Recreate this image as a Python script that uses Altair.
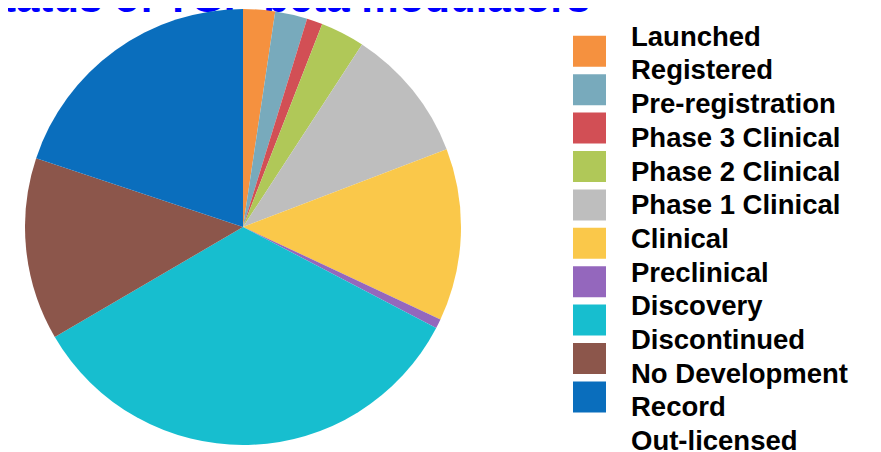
import altair as alt
import pandas as pd

# ---- data ----
title_text = "Status of TGF-beta modulators"

slice_names = ["Launched", "Registered", "Pre-registration", "Phase 3 Clinical",
               "Phase 2 Clinical", "Phase 1 Clinical", "Clinical", "Preclinical",
               "Discovery", "Discontinued"]
slice_values = [8.5, 8.6, 4.2, 11.8, 36.0, 46.0, 2.5, 122.1, 48.7, 71.6]
slice_colors = ["#F5913F", "#78AABC", "#D24F55", "#B0C858", "#BEBEBE",
                "#FAC84A", "#9467BD", "#17BECF", "#8C564B", "#0A6EBD"]

legend_labels = ["Launched", "Registered", "Pre-registration", "Phase 3 Clinical",
                 "Phase 2 Clinical", "Phase 1 Clinical", "Clinical", "Preclinical",
                 "Discovery", "Discontinued", "No Development", "Record", "Out-licensed"]

pie_df = pd.DataFrame({"name": slice_names, "value": slice_values,
                       "order": list(range(len(slice_names)))})
sw_df = pd.DataFrame({"name": slice_names, "i": list(range(len(slice_names)))})
lab_df = pd.DataFrame({"label": legend_labels, "i": list(range(len(legend_labels)))})
title_df = pd.DataFrame({"t": [title_text]})

color_scale = alt.Scale(domain=slice_names, range=slice_colors)

title = alt.Chart(title_df).mark_text(
    align="right", baseline="alphabetic", font="Liberation Sans",
    fontWeight="bold", fontSize=42, color="#0000FF"
).encode(x=alt.value(582), y=alt.value(4), text="t:N")

pie = alt.Chart(pie_df).mark_arc(radius=218).encode(
    theta=alt.Theta("value:Q", stack=True),
    order=alt.Order("order:Q"),
    color=alt.Color("name:N", scale=color_scale, legend=None),
    x=alt.value(235), y=alt.value(219),
)

swatches = alt.Chart(sw_df).mark_point(
    shape="M-1,-0.94H1V0.94H-1Z", filled=True, size=1089, opacity=1
).encode(
    x=alt.value(581.5),
    y=alt.Y("i:Q", scale=alt.Scale(domain=[0, 1], range=[43.3, 81.7]), axis=None),
    color=alt.Color("name:N", scale=color_scale, legend=None),
)

labels = alt.Chart(lab_df).mark_text(
    align="left", baseline="alphabetic", font="Liberation Sans",
    fontWeight="bold", fontSize=27.5, color="black"
).encode(
    x=alt.value(623),
    y=alt.Y("i:Q", scale=alt.Scale(domain=[0, 1], range=[37.7, 71.4]), axis=None),
    text="label:N",
)

chart = alt.layer(title, pie, swatches, labels).resolve_scale(
    y="independent"
).properties(
    width=865, height=444, autosize=alt.AutoSizeParams(type="none"), padding=0
).configure_view(stroke=None)

chart.save("out.html", embed_options={"renderer": "svg", "actions": False})
